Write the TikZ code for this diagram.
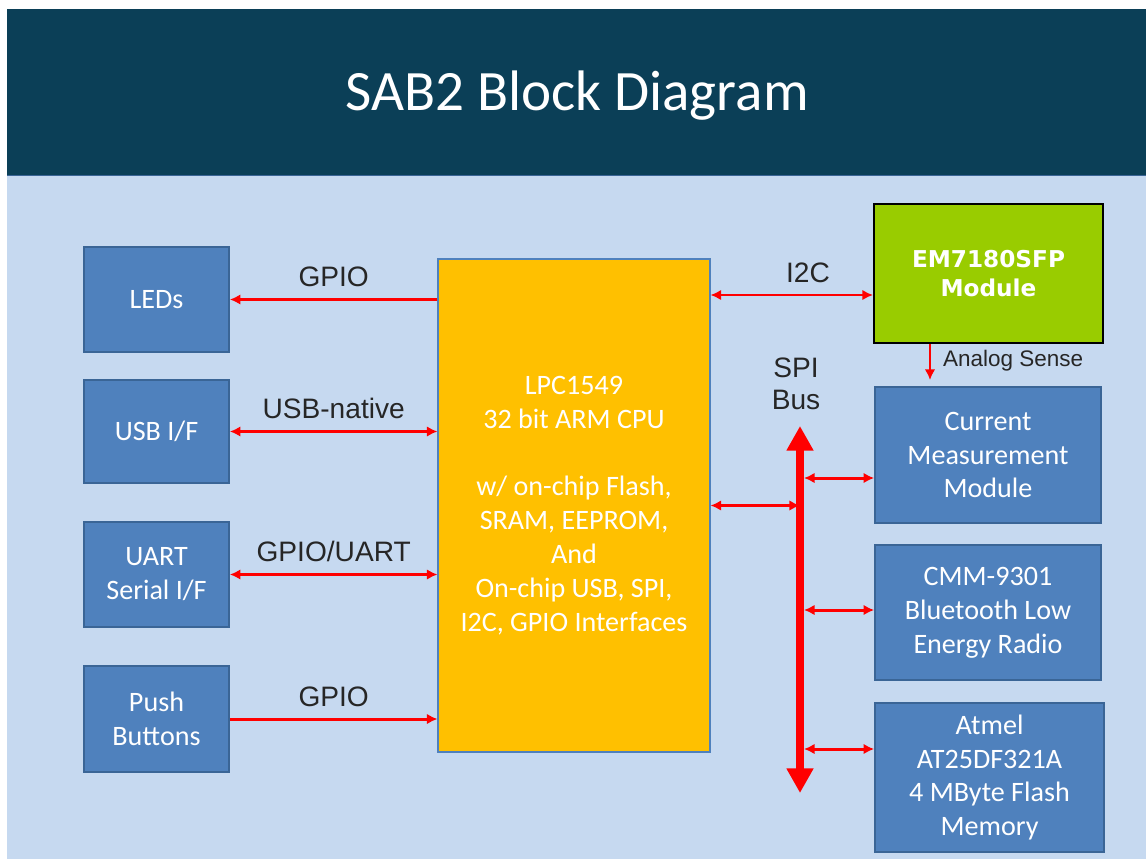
\documentclass[tikz,border=0pt]{standalone}
\usepackage{fontspec}
\setmainfont{Carlito}
\newfontfamily\arialfont{Liberation Sans}
\newfontfamily\verdfont{DejaVu Sans}
\usetikzlibrary{arrows.meta}
\definecolor{barcol}{HTML}{0B3F57}
\definecolor{bgcol}{HTML}{C6D9F0}
\definecolor{blkfill}{HTML}{4F81BD}
\definecolor{blkline}{HTML}{3A6596}
\definecolor{cpufill}{HTML}{FFC000}
\definecolor{emfill}{HTML}{99CC00}
\definecolor{lbltext}{HTML}{262626}
\tikzset{>=latex}

\begin{document}
\begin{tikzpicture}[x=0.02cm,y=-0.02cm,
  blk/.style 2 args={draw=blkline,fill=blkfill,line width=1pt,text=white,
    font=\fontsize{16}{19.3}\selectfont,align=center,
    minimum width=#1*0.02cm,minimum height=#2*0.02cm,inner sep=0pt},
  sig/.style={red,line width=1.7pt,>={Latex[length=6pt,width=6pt]}},
  lbl/.style={text=lbltext,font=\arialfont\fontsize{16}{18}\selectfont,align=center}]
  \useasboundingbox (0,0) rectangle (1146,859);
  \fill[white] (0,0) rectangle (1146,859);
  \fill[barcol] (7,9) rectangle (1146,175);
  \fill[bgcol] (7,176) rectangle (1146,859);
  \draw[blkline,line width=0.8pt] (7,175.5) -- (1146,175.5);
  \node[text=white,font=\fontsize{32.5}{38}\selectfont] (title) at (577,96) {SAB2 Block Diagram};
  % left side
  \node[blk={145}{105}] (leds) at (156.5,299.5) {LEDs};
  \node[blk={145}{103}] (usb) at (156.5,431.5) {USB I/F};
  \node[blk={145}{105}] (uart) at (156.5,574.5) {UART\\Serial I/F};
  \node[blk={145}{106}] (push) at (156.5,719) {Push\\Buttons};
  \node[blk={272}{493},fill=cpufill,draw=blkfill,line width=0.6pt] (cpu) at (574,505.5)
  {LPC1549\\32 bit ARM CPU\\[19.3pt]w/ on-chip Flash,\\SRAM, EEPROM,\\And\\On-chip USB, SPI,\\I2C, GPIO Interfaces};
  % right side
  \node[blk={229}{139},fill=emfill,draw=black,line width=1.2pt,
    font=\verdfont\bfseries\fontsize{13.2}{17}\selectfont] (em) at (988.5,273.5) {EM7180SFP\\Module};
  \node[blk={226}{136}] (cur) at (988,455) {Current\\Measurement\\Module};
  \node[blk={226}{135}] (cmm) at (988,612.5) {CMM-9301\\Bluetooth Low\\Energy Radio};
  \node[blk={229}{149}] (atm) at (989.5,777.5) {Atmel\\AT25DF321A\\4 MByte Flash\\Memory};
  \draw[sig,->] (leds.east -| cpu.west) -- node[lbl,above=3pt] (gpioa) {GPIO} (leds.east);
  \draw[sig,<->] (usb.east) -- node[lbl,above=3pt] (usbl) {USB-native} (usb.east -| cpu.west);
  \draw[sig,<->] (uart.east) -- node[lbl,above=3pt] (uartl) {GPIO/UART} (uart.east -| cpu.west);
  \draw[sig,->] (push.east) -- node[lbl,above=3pt] (gpiob) {GPIO} (push.east -| cpu.west);
  \coordinate (i2c) at (790,295);
  \draw[sig,<->] (i2c -| cpu.east) -- node[lbl,above=3pt,pos=0.6] (i2cl) {I2C} (i2c -| em.west);
  \coordinate (asense) at (930,380);
  \draw[sig,line width=1.4pt,->] (asense |- em.south) -- (asense);
  \node[lbl,font=\arialfont\fontsize{12.8}{14}\selectfont,anchor=west] (alabel) at (937,361) {Analog Sense};
  % SPI bus
  \coordinate (bustop) at (800,426);
  \coordinate (busbot) at (800,793);
  \node[lbl] (spil) at (796,384) {SPI\\Bus};
  \draw[red,line width=4.5pt,{Triangle[length=14pt,width=14.5pt]}-{Triangle[length=14pt,width=14.5pt]}]
  (bustop) -- (busbot);
  \draw[sig,<->] (cpu.east) -- (cpu.east -| bustop);
  \coordinate (bcur) at (804,478);
  \coordinate (bcmm) at (804,610);
  \coordinate (batm) at (804,749);
  \draw[sig,<->] (bcur) -- (bcur -| cur.west);
  \draw[sig,<->] (bcmm) -- (bcmm -| cmm.west);
  \draw[sig,<->] (batm) -- (batm -| atm.west);
\end{tikzpicture}
\end{document}
